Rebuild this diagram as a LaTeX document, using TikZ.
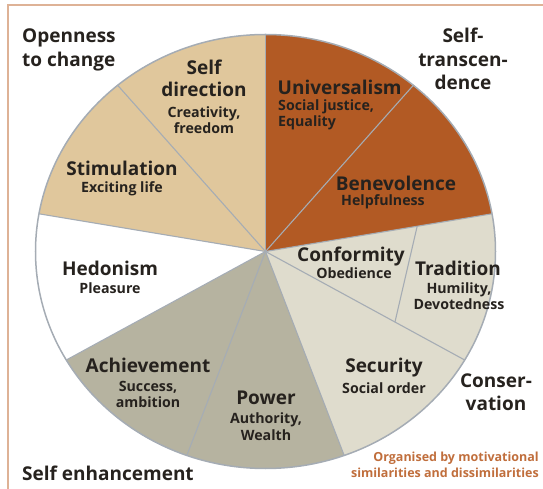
\documentclass[tikz,border=0pt]{standalone}
\usepackage{fontspec}
\setmainfont{Open Sans}
\definecolor{rust}{RGB}{178,90,36}
\definecolor{tan}{RGB}{224,199,156}
\definecolor{conslight}{RGB}{223,220,205}
\definecolor{enhgrey}{RGB}{182,179,160}
\definecolor{sepgrey}{RGB}{165,172,180}
\definecolor{ink}{RGB}{38,34,30}
\definecolor{notebrown}{RGB}{192,110,60}
\definecolor{framebrown}{RGB}{222,178,150}
\begin{document}
\begin{tikzpicture}[
    x = 1pt, y = 1pt,
    sep/.style = {draw = sepgrey, line width = 1.1pt},
    grp/.style = {font = \bfseries\fontsize{19}{23.5}\selectfont, text = ink, inner sep = 0pt},
    val/.style = {font = \bfseries\fontsize{19}{22}\selectfont, text = ink, inner sep = 0pt},
    sub/.style = {font = \bfseries\fontsize{14.2}{16.5}\selectfont, text = ink, inner sep = 0pt},
    note/.style = {font = \bfseries\fontsize{12.5}{16}\selectfont, text = notebrown, inner sep = 0pt, align = right},
  ]
  \useasboundingbox (-265.5,-237.5) rectangle (277.5,251.5);
  \draw[line width = 1.5pt, framebrown] (-257.5,-237.5) |- (277.5,246.5);

  % sectors
  \foreach \a/\b/\c in {50/90/rust, 10/50/rust, -30/10/conslight, -70/-30/conslight,
                        -110/-70/enhgrey, -150/-110/enhgrey, 170/210/white, 130/170/tan, 90/130/tan}
    \fill[\c] (0,0) -- (\a:230pt and 217pt)
      arc[start angle = \a, end angle = \b, x radius = 230pt, y radius = 217pt] -- cycle;

  \coordinate (c) at (0,0);
  \foreach \a [count = \i] in {90,50,10,-30,-70,-110,-150,170,130} {
    \coordinate (b\i) at (\a:230pt and 217pt);
    \path[sep] (c) -- (b\i);
  }
  \coordinate (ct1) at (10:154pt and 145pt);
  \coordinate (ct2) at (-30:149.5pt and 141pt);
  \path[sep] (ct1) -- (ct2);
  \draw[sepgrey, line width = 1.5pt] (c) ellipse [x radius = 230pt, y radius = 217pt];

  % groups
  \node (open) [grp, anchor = west, align = left] at (-243.5, 201.5) {Openness\\to change};
  \node (trans) [grp, align = center] at (197.5, 192.5) {Self-\\transcen-\\dence};
  \node (cons) [grp, align = center] at (230.5, -140.5) {Conser-\\vation};
  \node (enh) [grp, anchor = west] at (-243.5, -221.5) {Self enhancement};
  \node (org) [note, anchor = east] at (273.5, -213.5) {Organised by motivational\\similarities and dissimilarities};

  % values
  \node (selfdir) [val, align = center] at (-61.5, 173.5) {Self\\direction};
  \node (selfdirs) [sub, align = center] at (-61.5, 131.5) {Creativity,\\freedom};
  \node (stim) [val] at (-143.5, 83.5) {Stimulation};
  \node (stims) [sub] at (-143.5, 62.5) {Exciting life};
  \node (univ) [val, anchor = west] at (12, 164.5) {Universalism};
  \node (univs) [sub, anchor = west, align = left] at (12.5, 136.5) {Social justice,\\Equality};
  \node (bene) [val] at (130.5, 68.5) {Benevolence};
  \node (benes) [sub] at (117.5, 49.5) {Helpfulness};
  \node (conf) [val] at (85.5, -5.5) {Conformity};
  \node (confs) [sub] at (88.5, -21.5) {Obedience};
  \node (trad) [val] at (192.5, -16.5) {Tradition};
  \node (trads) [sub, align = center] at (193.5, -44.5) {Humility,\\Devotedness};
  \node (secu) [val] at (118.5, -116.5) {Security};
  \node (secus) [sub] at (118.5, -136.5) {Social order};
  \node (power) [val] at (0.5, -146.5) {Power};
  \node (powers) [sub, align = center] at (0.5, -175) {Authority,\\Wealth};
  \node (achv) [val] at (-117.5, -113.5) {Achievement};
  \node (achvs) [sub, align = center] at (-117.5, -143) {Success,\\ambition};
  \node (hedo) [val] at (-155.5, -16.5) {Hedonism};
  \node (hedos) [sub] at (-155.5, -36.5) {Pleasure};
\end{tikzpicture}
\end{document}
